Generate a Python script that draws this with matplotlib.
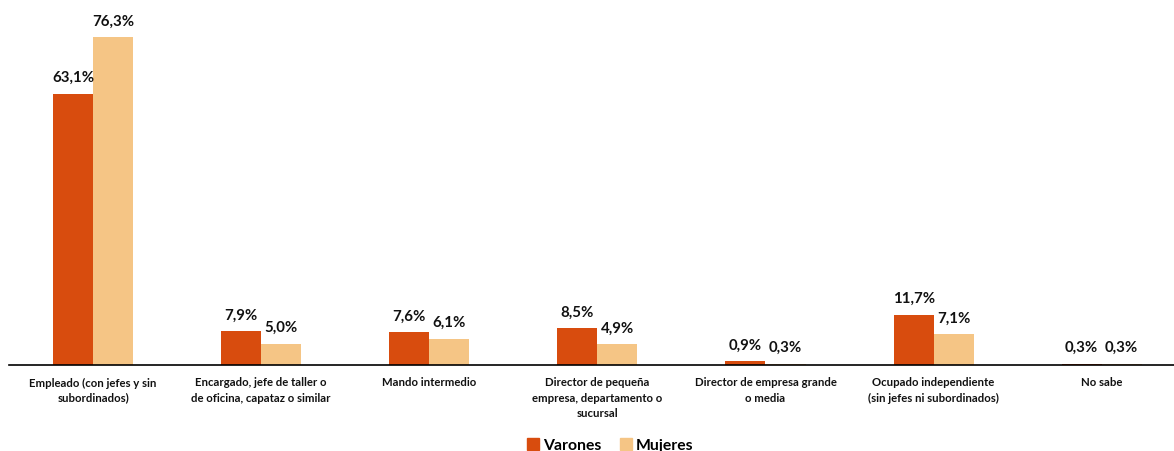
import numpy as np
import matplotlib.pyplot as plt
from matplotlib.patches import Patch

# datos: situacion profesional por sexo (%)
categorias = [
    "Empleado (con jefes y sin\nsubordinados)",
    "Encargado, jefe de taller o\nde oficina, capataz o similar",
    "Mando intermedio",
    "Director de pequeña\nempresa, departamento o\nsucursal",
    "Director de empresa grande\no media",
    "Ocupado independiente\n(sin jefes ni subordinados)",
    "No sabe",
]
varones = [63.1, 7.9, 7.6, 8.5, 0.9, 11.7, 0.3]
mujeres = [76.3, 5.0, 6.1, 4.9, 0.3, 7.1, 0.3]

c_var = "#D84C0E"
c_muj = "#F5C585"

plt.rcParams["font.family"] = ["Lato", "DejaVu Sans"]

fig = plt.figure(figsize=(11.74, 4.51), dpi=100)
ax = fig.add_axes([9 / 1174, 86 / 451, 1 - 9 / 1174, 365 / 451])

x = np.arange(len(categorias))
w = 0.238
b1 = ax.bar(x - w / 2, varones, w, color=c_var)
b2 = ax.bar(x + w / 2, mujeres, w, color=c_muj)

for bars, vals in [(b1, varones), (b2, mujeres)]:
    for r, v in zip(bars, vals):
        ax.text(r.get_x() + r.get_width() / 2, v + 2.0, f"{v:.1f}%".replace(".", ","),
                ha="center", va="bottom", fontsize=10.8, fontweight="bold", color="#111111")

ax.set_xlim(-0.5, 6.43)
ax.set_ylim(0, 84.9)
for s in ["top", "right", "left"]:
    ax.spines[s].set_visible(False)
ax.spines["bottom"].set_color("black")
ax.spines["bottom"].set_linewidth(1.2)
ax.set_yticks([])
ax.set_xticks(x)
ax.set_xticklabels(categorias, fontsize=8.2, fontweight="bold", color="#111111", linespacing=1.45)
ax.tick_params(axis="x", length=0, pad=9)

handles = [Patch(color=c_var, label="Varones"), Patch(color=c_muj, label="Mujeres")]
fig.legend(handles=handles, loc="lower center", bbox_to_anchor=(0.52, -0.035), ncol=2,
           frameon=False, prop={"size": 11.3, "weight": "bold"},
           handlelength=0.75, handleheight=0.75, handletextpad=0.25, columnspacing=1.2)

fig.savefig("out.png", dpi=100)
